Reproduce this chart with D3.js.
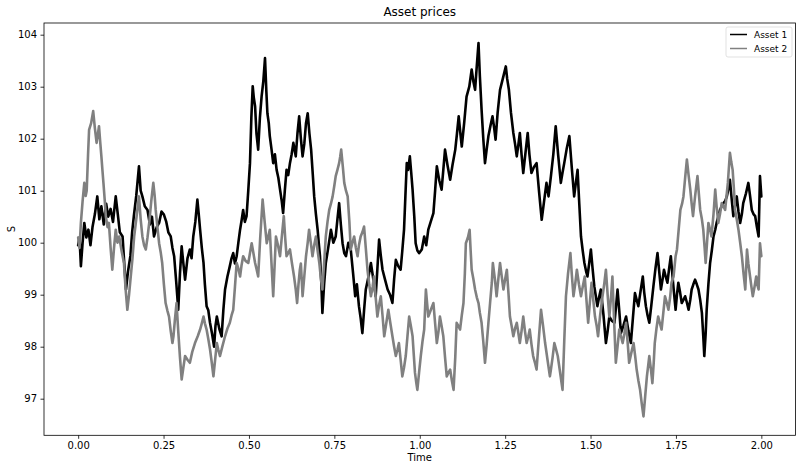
<!DOCTYPE html>
<html>
<head>
<meta charset="utf-8">
<script src="https://cdn.jsdelivr.net/npm/d3@7"></script>
<style>
  body { margin: 0; background: #fff; }
  text { font-family: "DejaVu Sans", sans-serif; fill: #000; }
</style>
</head>
<body>
<svg id="chart"></svg>
<script>
var width = 798, height = 465;

// Asset 1
var times1 = [0.000,0.004,0.008,0.013,0.018,0.024,0.030,0.036,0.042,0.049,0.056,0.062,0.068,0.075,0.082,0.088,0.095,0.102,0.110,0.116,0.122,0.130,0.135,0.140,0.146,0.153,0.158,0.163,0.170,0.178,0.183,0.188,0.195,0.203,0.210,0.216,0.222,0.230,0.237,0.244,0.251,0.258,0.264,0.271,0.276,0.281,0.287,0.293,0.298,0.303,0.308,0.313,0.320,0.327,0.332,0.337,0.343,0.349,0.353,0.357,0.362,0.367,0.371,0.376,0.381,0.386,0.392,0.398,0.402,0.406,0.413,0.420,0.425,0.430,0.437,0.444,0.449,0.454,0.459,0.464,0.469,0.474,0.479,0.483,0.488,0.493,0.498,0.503,0.507,0.511,0.514,0.518,0.522,0.527,0.532,0.537,0.542,0.547,0.551,0.554,0.558,0.561,0.566,0.571,0.576,0.581,0.586,0.591,0.596,0.600,0.605,0.610,0.615,0.620,0.625,0.630,0.637,0.642,0.647,0.652,0.657,0.662,0.667,0.672,0.677,0.682,0.687,0.691,0.696,0.701,0.705,0.708,0.712,0.715,0.720,0.725,0.732,0.740,0.747,0.754,0.759,0.764,0.769,0.774,0.779,0.784,0.791,0.798,0.805,0.811,0.816,0.822,0.827,0.832,0.837,0.842,0.850,0.857,0.864,0.871,0.876,0.881,0.886,0.891,0.898,0.906,0.913,0.920,0.925,0.930,0.937,0.944,0.949,0.954,0.958,0.962,0.966,0.971,0.975,0.979,0.984,0.988,0.993,0.998,1.006,1.013,1.019,1.025,1.032,1.040,1.045,1.050,1.057,1.064,1.069,1.074,1.081,1.089,1.096,1.104,1.109,1.114,1.119,1.123,1.130,1.137,1.145,1.152,1.157,1.162,1.167,1.172,1.176,1.181,1.186,1.191,1.196,1.201,1.207,1.213,1.218,1.222,1.228,1.235,1.243,1.252,1.256,1.261,1.267,1.274,1.279,1.284,1.289,1.293,1.298,1.303,1.309,1.316,1.321,1.327,1.334,1.342,1.349,1.357,1.364,1.371,1.377,1.384,1.391,1.398,1.405,1.413,1.418,1.423,1.430,1.438,1.445,1.452,1.457,1.462,1.467,1.472,1.477,1.482,1.487,1.491,1.496,1.501,1.506,1.511,1.516,1.520,1.525,1.530,1.538,1.545,1.550,1.555,1.562,1.570,1.575,1.579,1.584,1.589,1.596,1.604,1.611,1.618,1.624,1.630,1.635,1.640,1.646,1.653,1.657,1.662,1.667,1.672,1.678,1.684,1.690,1.696,1.701,1.706,1.711,1.715,1.720,1.725,1.730,1.735,1.742,1.749,1.753,1.757,1.762,1.767,1.772,1.777,1.782,1.787,1.792,1.796,1.801,1.806,1.811,1.816,1.821,1.826,1.830,1.833,1.837,1.840,1.845,1.850,1.855,1.860,1.865,1.869,1.874,1.879,1.884,1.889,1.894,1.899,1.904,1.908,1.913,1.918,1.923,1.928,1.933,1.938,1.943,1.947,1.955,1.962,1.967,1.972,1.977,1.982,1.987,1.992,1.996,2.000];
var asset1 = [99.95,100.10,99.55,100.00,100.38,100.10,100.25,99.95,100.30,100.55,100.89,100.45,100.70,100.35,100.75,100.50,100.65,100.40,100.89,100.55,100.20,100.12,99.60,99.10,99.45,99.75,100.20,100.51,100.90,101.47,101.00,100.89,100.70,100.63,100.35,100.50,100.12,100.30,100.38,100.60,100.54,100.40,100.20,100.12,99.90,99.74,99.25,98.71,99.40,99.93,99.60,99.29,99.70,99.87,99.70,100.12,100.40,100.83,100.55,100.25,99.90,99.61,99.20,98.78,98.70,98.46,98.25,98.00,98.40,98.58,98.35,98.20,98.70,99.10,99.35,99.55,99.70,99.80,99.60,99.74,100.00,100.25,100.45,100.63,100.40,100.51,101.00,101.53,102.40,103.01,102.80,102.62,102.10,101.79,102.40,102.81,103.10,103.55,102.90,102.49,102.30,102.05,101.80,101.53,101.70,101.40,101.25,101.02,100.80,100.57,101.00,101.40,101.30,101.53,101.70,101.92,101.66,102.10,102.43,102.00,101.66,101.90,102.30,102.49,102.10,101.79,101.30,100.89,100.55,100.25,99.95,99.74,99.20,98.65,99.20,99.61,99.90,100.25,100.00,100.12,100.45,100.76,100.35,99.99,99.80,99.74,100.00,99.87,99.40,98.97,99.20,98.78,98.55,98.26,98.70,99.10,99.35,99.61,99.30,98.97,99.50,100.06,99.75,99.48,99.30,99.10,99.00,98.84,99.30,99.67,99.55,99.48,99.85,100.25,100.90,101.53,101.40,101.66,101.35,101.02,100.50,99.99,99.85,99.80,99.87,100.12,99.95,100.25,100.40,100.57,101.00,101.47,101.20,101.02,101.40,101.79,101.50,101.21,101.50,101.79,102.10,102.43,102.10,101.85,102.30,102.81,103.00,103.33,103.10,102.94,103.40,103.84,103.20,102.56,102.00,101.53,101.80,102.05,102.25,102.43,102.20,101.98,102.50,102.94,103.15,103.39,103.15,102.94,102.50,102.11,101.90,101.66,101.90,102.11,101.70,101.34,101.70,102.11,101.70,101.34,101.45,101.53,101.00,100.44,100.80,101.15,100.89,101.28,101.70,102.24,101.70,101.15,101.35,101.53,101.80,102.05,101.45,100.89,101.15,101.40,100.75,100.12,99.85,99.61,99.45,99.35,99.60,99.87,99.50,99.16,98.95,98.78,98.95,99.10,98.60,98.07,98.30,98.58,98.50,98.46,98.80,99.10,98.70,98.26,98.40,98.58,98.30,98.07,98.55,99.03,98.90,98.78,99.05,99.35,99.05,98.78,98.60,98.46,98.80,99.16,99.50,99.80,99.45,99.10,99.30,99.48,99.35,99.23,99.50,99.74,99.20,98.71,99.00,99.23,99.05,98.84,98.90,98.97,98.85,98.71,98.90,99.10,99.20,99.29,99.20,99.10,98.90,98.65,98.20,97.82,98.25,98.71,99.20,99.61,99.85,100.12,100.25,100.38,100.50,100.63,100.70,100.76,100.80,100.89,101.05,101.21,100.85,100.51,100.70,100.89,100.60,100.38,100.55,100.76,100.95,101.15,100.90,100.63,100.55,100.51,100.30,100.12,101.28,100.89];

// Asset 2
var times2 = [0.000,0.004,0.008,0.013,0.018,0.022,0.025,0.029,0.032,0.038,0.044,0.049,0.054,0.058,0.061,0.065,0.068,0.071,0.074,0.078,0.081,0.086,0.090,0.095,0.100,0.105,0.110,0.115,0.120,0.127,0.134,0.139,0.144,0.149,0.154,0.159,0.164,0.171,0.178,0.183,0.188,0.193,0.198,0.203,0.208,0.214,0.220,0.224,0.227,0.232,0.237,0.242,0.246,0.251,0.256,0.261,0.266,0.271,0.276,0.279,0.283,0.288,0.293,0.298,0.303,0.308,0.313,0.320,0.327,0.334,0.342,0.350,0.357,0.362,0.367,0.371,0.376,0.381,0.386,0.391,0.396,0.401,0.406,0.410,0.415,0.422,0.430,0.437,0.444,0.449,0.454,0.459,0.464,0.469,0.474,0.478,0.483,0.490,0.498,0.503,0.508,0.513,0.518,0.522,0.527,0.533,0.540,0.546,0.552,0.556,0.561,0.566,0.571,0.575,0.579,0.585,0.591,0.596,0.602,0.606,0.610,0.615,0.620,0.626,0.632,0.637,0.641,0.645,0.649,0.652,0.657,0.662,0.667,0.672,0.676,0.681,0.686,0.691,0.696,0.701,0.706,0.710,0.715,0.720,0.725,0.730,0.735,0.740,0.745,0.750,0.754,0.759,0.764,0.767,0.770,0.775,0.779,0.784,0.789,0.794,0.798,0.803,0.808,0.813,0.818,0.822,0.827,0.832,0.837,0.842,0.847,0.852,0.857,0.862,0.866,0.871,0.876,0.881,0.886,0.891,0.896,0.902,0.908,0.914,0.920,0.925,0.930,0.935,0.939,0.944,0.949,0.954,0.959,0.964,0.969,0.974,0.979,0.983,0.986,0.990,0.993,0.998,1.003,1.008,1.013,1.016,1.018,1.022,1.025,1.032,1.040,1.045,1.050,1.055,1.059,1.064,1.069,1.074,1.079,1.084,1.089,1.094,1.099,1.104,1.108,1.113,1.118,1.123,1.128,1.132,1.135,1.141,1.146,1.149,1.152,1.157,1.162,1.167,1.172,1.176,1.181,1.186,1.191,1.196,1.201,1.206,1.211,1.214,1.220,1.225,1.230,1.235,1.240,1.245,1.250,1.255,1.260,1.264,1.269,1.274,1.279,1.284,1.289,1.293,1.298,1.303,1.308,1.313,1.318,1.322,1.327,1.332,1.337,1.342,1.348,1.355,1.361,1.367,1.374,1.381,1.384,1.389,1.394,1.399,1.404,1.411,1.418,1.423,1.428,1.434,1.441,1.445,1.450,1.455,1.460,1.466,1.472,1.477,1.483,1.488,1.493,1.498,1.503,1.508,1.513,1.518,1.522,1.528,1.535,1.540,1.545,1.550,1.555,1.560,1.564,1.569,1.574,1.579,1.584,1.589,1.594,1.599,1.604,1.609,1.613,1.620,1.626,1.631,1.635,1.640,1.645,1.650,1.655,1.660,1.665,1.669,1.672,1.677,1.681,1.685,1.688,1.693,1.698,1.703,1.708,1.713,1.718,1.723,1.728,1.733,1.737,1.743,1.749,1.753,1.758,1.763,1.768,1.772,1.777,1.782,1.787,1.792,1.796,1.800,1.806,1.813,1.817,1.821,1.826,1.830,1.834,1.837,1.841,1.845,1.850,1.854,1.860,1.865,1.869,1.874,1.879,1.884,1.889,1.894,1.902,1.908,1.912,1.916,1.920,1.923,1.928,1.933,1.938,1.943,1.948,1.953,1.958,1.962,1.967,1.971,1.975,1.980,1.985,1.988,1.992,1.996,2.000];
var asset2 = [100.10,99.90,100.38,100.80,101.15,100.90,101.00,101.70,102.17,102.30,102.53,102.20,101.92,102.10,102.24,101.90,101.66,101.40,101.15,100.80,100.51,100.30,100.38,99.90,99.48,99.90,100.25,100.00,100.12,99.85,99.61,99.10,98.71,99.00,99.35,99.70,100.12,100.50,100.89,100.45,100.12,99.95,99.87,100.10,100.38,100.80,101.15,100.90,100.63,100.30,99.99,99.80,99.61,99.20,98.84,98.70,98.58,98.30,98.07,98.20,98.50,98.84,98.30,97.80,97.37,97.60,97.82,97.75,97.69,97.90,98.07,98.20,98.33,98.45,98.58,98.45,98.33,98.15,97.95,97.70,97.43,97.75,98.07,97.95,97.82,98.00,98.20,98.35,98.46,98.60,98.71,99.15,99.61,99.50,99.35,99.55,99.74,99.65,99.61,99.80,99.99,99.80,99.61,99.50,99.35,100.10,100.83,100.40,99.99,100.10,100.25,99.60,98.97,99.55,100.12,99.95,99.74,100.10,100.51,100.10,99.74,99.80,99.87,99.60,99.35,99.10,98.84,99.20,99.48,99.60,98.97,99.35,99.74,100.00,100.25,100.00,99.74,99.95,100.12,99.85,99.61,99.35,99.10,99.60,100.12,100.40,100.63,100.75,100.89,101.10,101.28,101.40,101.53,101.65,101.79,101.45,101.15,101.00,100.89,100.40,99.87,100.00,100.12,99.90,99.74,99.95,100.12,100.20,100.31,99.90,99.48,99.20,98.97,99.15,99.35,98.95,98.58,98.80,98.97,98.60,98.20,98.45,98.71,98.45,98.20,98.00,97.82,97.95,98.07,97.75,97.43,97.60,97.82,98.20,98.58,98.40,98.20,97.80,97.50,97.30,97.17,97.50,97.82,98.10,98.33,98.80,99.10,98.80,98.58,98.70,98.84,98.45,98.07,98.30,98.58,98.40,98.20,97.80,97.43,97.50,97.56,97.35,97.17,97.80,98.46,98.40,98.33,98.60,98.84,99.40,99.99,100.10,100.25,99.85,99.48,99.30,99.10,98.95,98.84,98.65,98.46,98.10,97.69,98.05,98.46,98.85,99.23,99.61,99.30,98.97,99.30,99.61,99.35,99.10,99.30,99.48,99.00,98.58,98.40,98.20,98.35,98.46,98.25,98.07,98.30,98.58,98.30,98.07,98.20,98.33,98.05,97.82,97.70,97.56,98.10,98.71,98.40,98.07,97.75,97.43,97.56,97.80,98.07,97.95,97.82,97.50,97.17,98.10,98.97,99.40,99.80,99.40,98.97,99.20,99.48,99.20,98.97,99.15,99.35,98.90,98.46,98.85,99.23,98.90,98.58,98.40,98.20,98.60,98.97,99.20,99.48,99.00,98.58,98.95,99.35,98.50,97.69,98.00,98.33,98.20,98.07,98.25,98.46,98.05,97.69,97.90,98.07,97.80,97.56,97.35,97.17,96.90,96.66,97.05,97.43,97.65,97.82,97.55,97.30,97.70,98.07,98.35,98.58,98.45,98.33,98.65,98.97,98.85,98.71,98.95,99.23,99.35,99.74,99.87,100.25,100.63,100.75,100.89,101.25,101.60,101.30,101.02,100.75,100.51,100.89,101.28,100.95,100.63,100.45,100.25,99.90,99.61,100.00,100.38,100.25,100.12,100.55,101.02,100.70,100.38,100.55,100.76,100.70,100.63,101.15,101.73,101.55,101.40,101.00,100.63,100.45,100.25,100.00,99.74,99.40,99.10,99.87,99.60,99.35,99.15,98.97,99.15,99.35,99.20,99.10,99.99,99.74];

var xTicks = [0, 0.25, 0.5, 0.75, 1, 1.25, 1.5, 1.75, 2];
var yTicks = [97, 98, 99, 100, 101, 102, 103, 104];
var seriesNames = ["Asset 1", "Asset 2"];
var seriesColors = ["#000000", "#808080"];

var margin = {top: 23, right: 2.5, bottom: 29.7, left: 44};

var svg = d3.select("#chart")
    .attr("width", width)
    .attr("height", height);

var x = d3.scaleLinear()
    .domain([-0.1, 2.1])
    .range([margin.left, width - margin.right]);

var y = d3.scaleLinear()
    .domain([96.296, 104.225])
    .range([height - margin.bottom, margin.top]);

var series = [
  {name: seriesNames[0], color: seriesColors[0], pts: times1.map(function(t, i){ return [t, asset1[i]]; })},
  {name: seriesNames[1], color: seriesColors[1], pts: times2.map(function(t, i){ return [t, asset2[i]]; })}
];

var line = d3.line()
    .x(function(d){ return x(d[0]); })
    .y(function(d){ return y(d[1]); });

// lines (thick-ish stroke to look like the dense noisy band of the original)
svg.append("g")
  .selectAll("path")
  .data(series)
  .enter()
  .append("path")
    .attr("d", function(d){ return line(d.pts); })
    .attr("fill", "none")
    .attr("stroke", function(d){ return d.color; })
    .attr("stroke-width", 2.6)
    .attr("stroke-linejoin", "round")
    .attr("stroke-linecap", "round");

// axes
var xAxis = svg.append("g")
    .attr("transform", "translate(0," + (height - margin.bottom) + ")")
    .call(d3.axisBottom(x).tickValues(xTicks).tickFormat(d3.format(".2f")).tickSize(3.5).tickPadding(3.5));

var yAxis = svg.append("g")
    .attr("transform", "translate(" + margin.left + ",0)")
    .call(d3.axisLeft(y).tickValues(yTicks).tickFormat(d3.format("d")).tickSize(3.5).tickPadding(3.5));

[xAxis, yAxis].forEach(function(g){
  g.select(".domain").remove();
  g.selectAll(".tick line").attr("stroke", "#000").attr("stroke-width", 0.8);
  g.selectAll(".tick text").style("font-size", "10px").style("font-family", "DejaVu Sans");
});

// frame
svg.append("rect")
    .attr("x", margin.left)
    .attr("y", margin.top)
    .attr("width", width - margin.left - margin.right)
    .attr("height", height - margin.top - margin.bottom)
    .attr("fill", "none")
    .attr("stroke", "#000")
    .attr("stroke-width", 0.8);

// title and labels
svg.append("text")
    .attr("x", (margin.left + width - margin.right) / 2)
    .attr("y", 16)
    .attr("text-anchor", "middle")
    .style("font-size", "12px")
    .text("Asset prices");

svg.append("text")
    .attr("x", (margin.left + width - margin.right) / 2)
    .attr("y", 461)
    .attr("text-anchor", "middle")
    .style("font-size", "10px")
    .text("Time");

svg.append("text")
    .attr("transform", "translate(15," + ((margin.top + height - margin.bottom) / 2) + ") rotate(-90)")
    .attr("text-anchor", "middle")
    .style("font-size", "10px")
    .text("S");

// legend
var legend = svg.append("g").attr("transform", "translate(726,27)");

legend.append("rect")
    .attr("width", 66)
    .attr("height", 30)
    .attr("rx", 2)
    .attr("fill", "#fff")
    .attr("fill-opacity", 0.8)
    .attr("stroke", "#d9d9d9")
    .attr("stroke-width", 0.8);

var items = legend.selectAll(".item")
    .data(series)
    .enter()
    .append("g")
    .attr("transform", function(d, i){ return "translate(0," + (7.5 + i * 14) + ")"; });

items.append("line")
    .attr("x1", 4).attr("x2", 21)
    .attr("stroke", function(d){ return d.color; })
    .attr("stroke-width", 1.5);

items.append("text")
    .attr("x", 28)
    .attr("y", 3.3)
    .style("font-size", "9px")
    .text(function(d){ return d.name; });
</script>
</body>
</html>
